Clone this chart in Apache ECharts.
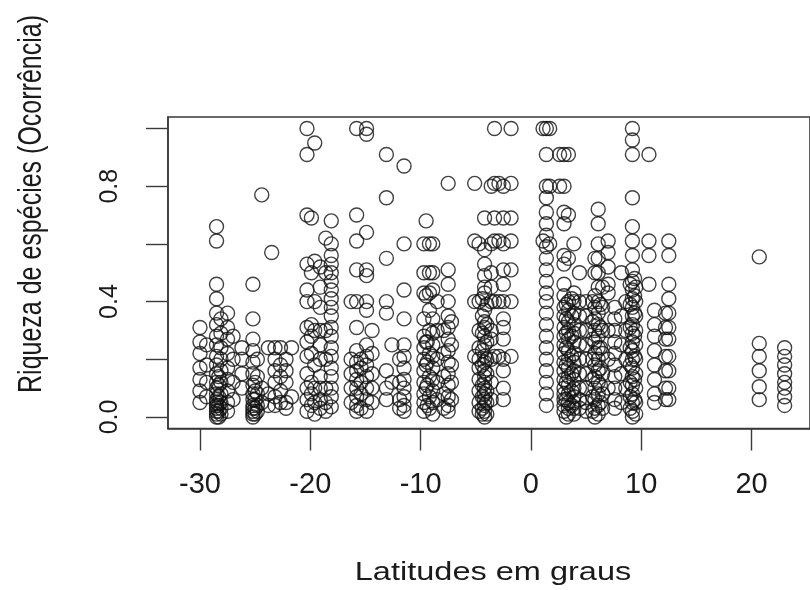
<!DOCTYPE html>
<html>
<head>
<meta charset="utf-8">
<script src="https://cdn.jsdelivr.net/npm/echarts@6/dist/echarts.min.js"></script>
<style>html,body{margin:0;padding:0;background:#fff;}#c{width:810px;height:590px;}</style>
</head>
<body>
<div id="c"></div>
<script>
// Tick values
const xTickValues = [-30, -20, -10, 0, 10, 20];
const yTickValues = [0, 0.2, 0.4, 0.6, 0.8, 1.0];
const yLabelValues = [0, 0.4, 0.8];

// Columns of points: latitude, then the richness values read at that latitude
const southLats = [-30.0, -29.4, -28.5, -28.3, -28.1, -27.5, -27.0, -26.2, -25.2, -25.0, -24.8, -24.4, -23.8, -23.5, -23.2, -22.7, -22.2, -21.7];
const southVals = [
  [0.05,0.09,0.13,0.17,0.22,0.26,0.31],
  [0.07,0.12,0.18,0.25],
  [0.66,0.61,0.46,0.41,0.36,0.32,0.28,0.25,0.21,0.18,0.15,0.12,0.10,0.08,0.06,0.05,0.04,0.03,0.02,0.01,0.0],
  [0.14,0.11,0.07,0.04,0.02,0.0],
  [0.34,0.29,0.24,0.20,0.16,0.12,0.08,0.05,0.03,0.01],
  [0.36,0.31,0.27,0.22,0.17,0.13,0.09,0.05,0.02],
  [0.28,0.20,0.12,0.06],
  [0.24,0.20,0.15,0.10],
  [0.46,0.34,0.27,0.23,0.19,0.15,0.11,0.08,0.06,0.04,0.03,0.02,0.01,0.0],
  [0.12,0.09,0.06,0.03,0.01],
  [0.20,0.14,0.08,0.04,0.02],
  [0.77,0.10,0.05],
  [0.24,0.08,0.04],
  [0.57],
  [0.24,0.20,0.16,0.12,0.07,0.04],
  [0.24,0.18,0.14,0.09,0.05],
  [0.20,0.16,0.12,0.05,0.03],
  [0.24,0.07]
];

const midSouthLats = [-20.3, -19.9, -19.6, -19.1, -18.6, -18.1, -16.3, -15.8, -15.4, -14.9, -14.4, -13.1, -12.6, -11.9, -11.5];
const midSouthVals = [
  [1.0,0.91,0.70,0.53,0.44,0.40,0.31,0.26,0.21,0.15,0.10,0.06,0.02],
  [0.69,0.50,0.32,0.28,0.22,0.12,0.08,0.04],
  [0.95,0.54,0.40,0.30,0.18,0.10,0.05,0.01],
  [0.52,0.45,0.38,0.30,0.25,0.20,0.14,0.10,0.06,0.03],
  [0.62,0.50,0.30,0.20,0.10,0.05,0.02],
  [0.68,0.60,0.56,0.53,0.50,0.47,0.44,0.41,0.38,0.35,0.31,0.28,0.24,0.21,0.17,0.14,0.10,0.07,0.035],
  [0.40,0.20,0.15,0.10,0.05],
  [1.0,0.70,0.61,0.51,0.40,0.31,0.23,0.19,0.16,0.13,0.10,0.07,0.04,0.02],
  [0.20,0.17,0.12,0.08,0.03],
  [1.0,0.98,0.64,0.51,0.49,0.40,0.37,0.25,0.21,0.18,0.14,0.10,0.06,0.02],
  [0.30,0.22,0.15,0.10,0.05],
  [0.91,0.76,0.55,0.40,0.36,0.16,0.10,0.06],
  [0.25,0.12],
  [0.20,0.12,0.06,0.03],
  [0.87,0.60,0.44,0.34,0.25,0.21,0.17,0.13,0.10,0.07,0.04,0.02]
];

const midLats = [-9.7, -9.5, -9.4, -9.2, -8.9, -8.5, -7.9, -7.5, -7.2];
const midVals = [
  [0.60,0.50,0.43,0.34,0.28,0.24,0.20,0.16,0.12,0.08,0.05,0.02],
  [0.68,0.42,0.26,0.18,0.10],
  [0.26,0.19,0.11,0.04],
  [0.60,0.50,0.43,0.37,0.30,0.22,0.14,0.07,0.03],
  [0.60,0.50,0.44,0.34,0.29,0.25,0.21,0.17,0.13,0.09,0.05,0.01],
  [0.40,0.30,0.20,0.12,0.06],
  [0.30,0.22,0.14,0.08,0.03],
  [0.81,0.51,0.46,0.40,0.35,0.31,0.27,0.23,0.19,0.15,0.11,0.07,0.04,0.02],
  [0.33,0.25,0.18,0.12,0.06]
];

const equatorSLats = [-5.1, -4.7, -4.4, -4.2, -4.0, -3.6, -3.3, -2.9, -2.5, -1.8];
const equatorSVals = [
  [0.81,0.61,0.40,0.21],
  [0.60,0.40,0.30,0.24,0.20,0.17,0.13,0.09,0.05,0.02],
  [0.41,0.35,0.29,0.23,0.18,0.11,0.07,0.03,0.01],
  [0.69,0.58,0.53,0.49,0.45,0.43,0.37,0.33,0.31,0.28,0.25,0.21,0.19,0.16,0.14,0.12,0.10,0.08,0.06,0.04,0.02,0.0],
  [0.39,0.32,0.26,0.20,0.15,0.09,0.05,0.01],
  [0.80,0.60,0.50,0.45,0.40,0.30,0.27,0.20,0.12,0.06],
  [1.0,0.81,0.69,0.61,0.40,0.21],
  [0.81,0.61,0.40,0.21],
  [0.80,0.69,0.60,0.51,0.46,0.40,0.34,0.31,0.27,0.20,0.16,0.10,0.06],
  [1.0,0.81,0.69,0.61,0.51,0.40,0.21]
];

const equatorNLats = [1.1, 1.4, 1.7, 2.6, 3.0, 3.2, 3.4, 3.7, 3.9, 4.4, 5.0];
const equatorNVals = [
  [1.0,0.61],
  [1.0,0.91,0.80,0.76,0.71,0.67,0.63,0.59,0.55,0.51,0.47,0.43,0.40,0.36,0.32,0.28,0.24,0.20,0.16,0.12,0.08,0.04],
  [1.0,0.80,0.60],
  [0.91,0.80],
  [0.91,0.80,0.71,0.67,0.56,0.53,0.46,0.42,0.38,0.35,0.31,0.28,0.25,0.22,0.19,0.16,0.13,0.10,0.08,0.06,0.04,0.02],
  [0.39,0.34,0.29,0.24,0.18,0.12,0.06,0.0],
  [0.91,0.70,0.55,0.40,0.37,0.33,0.30,0.27,0.23,0.20,0.17,0.14,0.11,0.08,0.05,0.03,0.01],
  [0.41,0.35,0.28,0.21,0.15,0.09,0.04],
  [0.60,0.43,0.40,0.36,0.32,0.29,0.26,0.22,0.19,0.16,0.13,0.10,0.07,0.05,0.03,0.01],
  [0.50,0.40,0.35,0.30,0.25,0.20,0.15,0.10,0.06,0.03],
  [0.40,0.35,0.30,0.25,0.20,0.15,0.10,0.05,0.02]
];

const northLats = [5.6, 5.8, 6.1, 6.3, 6.5, 7.0, 7.6, 8.2, 8.6, 9.0, 9.2, 9.4, 9.5, 10.7, 11.2, 12.2, 12.5];
const northVals = [
  [0.40,0.33,0.27,0.20,0.13,0.07,0.02],
  [0.55,0.50,0.42,0.38,0.34,0.30,0.26,0.22,0.18,0.14,0.10,0.06,0.03,0.0],
  [0.72,0.67,0.60,0.55,0.50,0.45,0.40,0.36,0.32,0.28,0.24,0.20,0.16,0.12,0.08,0.04,0.01],
  [0.39,0.31,0.24,0.17,0.11,0.05],
  [0.45,0.38,0.30,0.22,0.15,0.08,0.03],
  [0.61,0.57,0.52,0.46,0.43,0.30,0.20,0.10],
  [0.38,0.34,0.30,0.26,0.22,0.18,0.14,0.10,0.06,0.03],
  [0.50,0.35,0.25,0.15,0.05],
  [0.40,0.30,0.20,0.10],
  [0.46,0.39,0.31,0.24,0.18,0.12,0.07,0.03],
  [1.0,0.96,0.91,0.76,0.66,0.61,0.56,0.51,0.47,0.44,0.41,0.38,0.35,0.32,0.29,0.26,0.23,0.20,0.17,0.14,0.11,0.08,0.05,0.02,0.0],
  [0.48,0.42,0.36,0.28,0.21,0.13,0.06],
  [0.45,0.40,0.35,0.30,0.25,0.20,0.15,0.10,0.05,0.01],
  [0.91,0.61,0.56,0.46],
  [0.37,0.32,0.28,0.23,0.18,0.13,0.08,0.05],
  [0.36,0.31,0.27,0.21,0.16,0.10,0.06],
  [0.61,0.56,0.46,0.41,0.36,0.31,0.27,0.21,0.16,0.10,0.06]
];

const farNorthLats = [20.7, 23.0];
const farNorthVals = [
  [0.555,0.255,0.21,0.16,0.105,0.06],
  [0.24,0.21,0.18,0.15,0.12,0.10,0.07,0.04]
];

const groups = [
  [southLats, southVals], [midSouthLats, midSouthVals], [midLats, midVals],
  [equatorSLats, equatorSVals], [equatorNLats, equatorNVals],
  [northLats, northVals], [farNorthLats, farNorthVals]
];
const points = [];
groups.forEach(([lats, vals]) => {
  lats.forEach((lat, i) => vals[i].forEach(v => points.push([lat, v])));
});

const FONT = '"Liberation Sans", Arial, sans-serif';
const chart = echarts.init(document.getElementById('c'), null, {renderer: 'canvas'});
chart.setOption({
  animation: false,
  backgroundColor: '#ffffff',
  grid: {left: 168, top: 117, width: 650, height: 311.5, show: true,
         borderColor: '#3a3a3a', borderWidth: 1.6, backgroundColor: 'transparent'},
  xAxis: {
    type: 'value', min: -32.9, max: 25.3,
    splitLine: {show: false},
    axisLine: {show: true, onZero: false, lineStyle: {color: '#3a3a3a', width: 1.6}},
    axisTick: {show: true, length: 22, customValues: xTickValues, lineStyle: {color: '#3a3a3a', width: 1.4}},
    axisLabel: {customValues: xTickValues, margin: 42, fontSize: 29, fontFamily: FONT, color: '#1a1a1a',
                formatter: v => String(v)}
  },
  yAxis: {
    type: 'value', min: -0.04, max: 1.04,
    splitLine: {show: false},
    axisLine: {show: true, onZero: false, lineStyle: {color: '#3a3a3a', width: 1.6}},
    axisTick: {show: true, length: 22, customValues: yTickValues, lineStyle: {color: '#3a3a3a', width: 1.4}},
    axisLabel: {customValues: yLabelValues, rotate: 90, margin: 45, fontSize: 25, fontFamily: FONT, color: '#1a1a1a',
                formatter: v => Number(v).toFixed(1)}
  },
  graphic: [
    {type: 'text', x: 493, y: 573, scaleX: 1.3,
     style: {text: 'Latitudes em graus', fontSize: 25, fontFamily: FONT, fill: '#1a1a1a', align: 'center', verticalAlign: 'middle'}},
    {type: 'text', x: 32, y: 204, rotation: Math.PI / 2, scaleY: 1.3,
     style: {text: 'Riqueza de espécies (Ocorrência)', fontSize: 25, fontFamily: FONT, fill: '#1a1a1a', align: 'center', verticalAlign: 'middle'}}
  ],
  series: [{
    type: 'scatter',
    data: points,
    symbol: 'circle',
    symbolSize: 14,
    itemStyle: {color: 'rgba(0,0,0,0)', borderColor: '#111', borderWidth: 1.4},
    emphasis: {disabled: true}
  }]
});
</script>
</body>
</html>
